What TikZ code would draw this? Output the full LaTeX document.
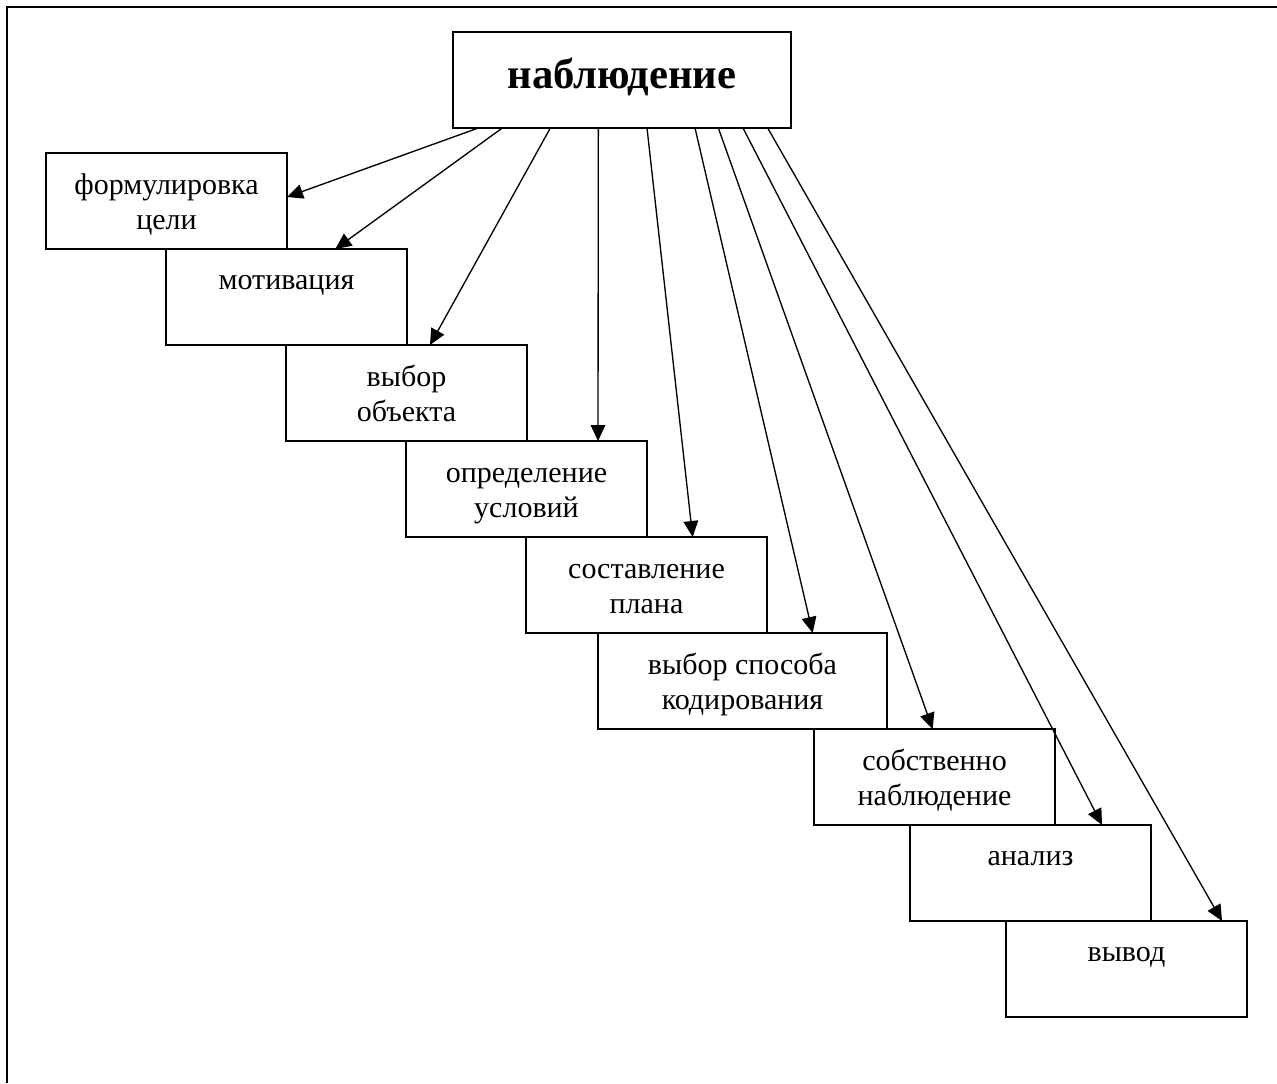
\documentclass[tikz,border=0pt]{standalone}
\usepackage{fontspec}
\setmainfont{Liberation Serif}
\usetikzlibrary{arrows.meta}
\usetikzlibrary{positioning}

\begin{document}
\begin{tikzpicture}
[
	x = 0.75pt, y = -0.75pt,
	stage/.style	= {rectangle, draw = black, line width = 1.5pt, outer sep = 0pt, minimum width = 180.75pt, minimum height = 72pt, inner sep = 0pt, align = center, font = \fontsize{22.5}{26.5}\selectfont, text height = 48pt, text depth = 5.5pt},
	oneline/.style	= {text height = 15.5pt, text depth = 27.5pt},
	wide/.style	= {stage, minimum width = 216.75pt},
	head/.style	= {stage, minimum width = 253.5pt, text height = 22pt, text depth = 9pt, font = \fontsize{32}{36}\selectfont\bfseries},
	frame/.style	= {line width = 2.2pt},
	link/.style	= {-{Triangle[length = 12pt, width = 11pt]}, line width = 1pt},
]

	\useasboundingbox (0, 0) rectangle (1277, 1083);
	\draw [frame] (7, 1083) -- (7, 7) -- (1277, 7);

	\node (obs) [head, anchor = north west] at (453, 32) {наблюдение};
	%
	\node (goal) [stage, anchor = north west] at (46, 153) {формулировка\\цели};
	\node (motive) [stage, oneline, below right = 0pt and 90pt of goal.south west] {мотивация};
	\node (object) [stage, below right = 0pt and 90pt of motive.south west] {выбор\\объекта};
	\node (terms) [stage, below right = 0pt and 90pt of object.south west] {определение\\условий};
	\node (plan) [stage, below right = 0pt and 90pt of terms.south west] {составление\\плана};
	\node (coding) [wide, below right = 0pt and 54pt of plan.south west] {выбор способа\\кодирования};
	\node (proper) [stage, below right = 0pt and 162pt of coding.south west] {собственно\\наблюдение};
	\node (analysis) [stage, oneline, below right = 0pt and 72pt of proper.south west] {анализ};
	\node (result) [stage, oneline, below right = 0pt and 72pt of analysis.south west] {вывод};

	\draw [link] ([xshift = 19pt]obs.south west) -- ([yshift = -33pt]goal.north east);
	\draw [link] ([xshift = 37pt]obs.south west) -- ([xshift = 127pt]motive.north west);
	\draw [link] ([xshift = 73pt]obs.south west) -- ([xshift = 108pt]object.north west);
	\draw [link] ([xshift = 109pt]obs.south west) -- ([xshift = 144pt]terms.north west);
	\draw [link] ([xshift = 145.5pt]obs.south west) -- ([xshift = 125pt]plan.north west);
	\draw [link] ([xshift = 181.5pt]obs.south west) -- ([xshift = 161pt]coding.north west);
	\draw [link] ([xshift = 199pt]obs.south west) -- ([xshift = 89pt]proper.north west);
	\draw [link] ([xshift = 217.5pt]obs.south west) -- ([xshift = 144pt]analysis.north west);
	\draw [link] ([xshift = 236pt]obs.south west) -- ([xshift = 162pt]result.north west);

\end{tikzpicture}
\end{document}
